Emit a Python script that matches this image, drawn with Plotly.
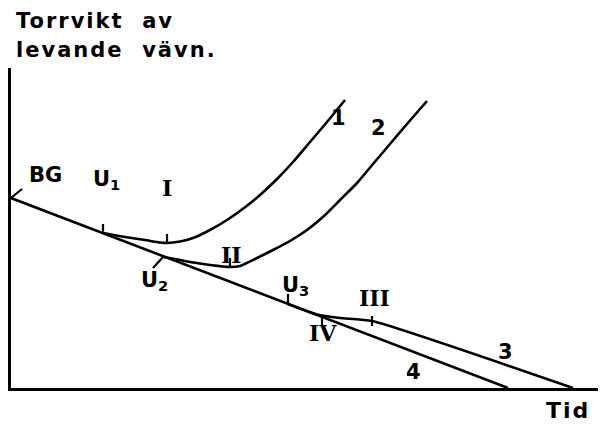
import plotly.graph_objects as go

# schematic: dry weight of living tissue over time
# main decline line BG -> 4
main_t = [0, 497]
main_w = [190, 0]

# curve 1 (starts at U1, minimum at I)
c1_t = [92, 114, 134, 149, 156, 169, 182, 199, 216, 233, 249, 266, 282, 299, 316, 334]
c1_w = [155, 151, 148, 145.5, 145, 146.5, 150, 158, 168, 180, 193, 209, 226, 246, 266, 288]

# curve 2 (starts at U2, minimum at II)
c2_t = [152, 164, 179, 199, 219, 229, 244, 262, 279, 296, 313, 329, 346, 362, 379, 396, 416]
c2_w = [131, 129, 126, 123, 121, 122, 129, 138, 147, 158, 172, 188, 205, 224, 244, 264, 287]

# curve 3 (starts at U3, bend at III)
c3_t = [277, 306, 329, 361, 562]
c3_w = [84, 73.5, 70, 67, 0]

# short marker strokes
marks = {
    'BG': ([0, 11], [190, 199]),
    'U1': ([92, 92], [155, 164]),
    'I': ([156, 156], [145, 154]),
    'U2': ([152, 142], [131, 120]),
    'II': ([219, 219], [121, 130]),
    'U3': ([277, 277], [84, 94]),
    'III': ([361, 361], [62, 72]),
    'IV': ([311, 311], [71, 62]),
}

# text labels: (text, t, w, font, size)
sans = 'DejaVu Sans'
serif = 'DejaVu Serif'
labels = [
    ('BG', 34, 213, sans, 21),
    ('U<sub>1</sub>', 95, 208, sans, 21),
    ('I', 156, 200, serif, 22),
    ('U<sub>2</sub>', 143, 107, sans, 21),
    ('II', 220, 133, serif, 22),
    ('U<sub>3</sub>', 284, 102, sans, 21),
    ('III', 363, 90, serif, 22),
    ('IV', 312, 55, serif, 22),
    ('1', 327, 270, sans, 21),
    ('2', 367, 260, sans, 21),
    ('3', 494, 36, sans, 21),
    ('4', 402, 16, sans, 21),
]


def spaced(s):
    return '<span style="letter-spacing:2px">' + s + '</span>'


line_style = dict(color='black', width=2.6)

fig = go.Figure()
for t, w in [(main_t, main_w), (c1_t, c1_w), (c2_t, c2_w), (c3_t, c3_w)]:
    fig.add_trace(go.Scatter(x=t, y=w, mode='lines', line=dict(line_style, shape='spline', smoothing=0.5),
                             hoverinfo='skip', cliponaxis=False))
for k, (t, w) in marks.items():
    fig.add_trace(go.Scatter(x=t, y=w, mode='lines', line=dict(color='black', width=2.2),
                             hoverinfo='skip', cliponaxis=False))

for txt, t, w, fam, sz in labels:
    fig.add_annotation(x=t, y=w, text=txt, showarrow=False,
                       font=dict(family=fam, size=sz, color='black', weight='bold'))

# axis titles (paper coords, plot box is 589 x 320 px)
title_font = dict(family=sans, size=21, color='black', weight='bold')
fig.add_annotation(xref='paper', yref='paper', x=3 / 589, y=367 / 320, text=spaced('Torrvikt  av'),
                   xanchor='left', yanchor='middle', showarrow=False, font=title_font)
fig.add_annotation(xref='paper', yref='paper', x=3 / 589, y=338 / 320, text=spaced('levande  vävn.'),
                   xanchor='left', yanchor='middle', showarrow=False, font=title_font)
fig.add_annotation(xref='paper', yref='paper', x=557 / 589, y=-22 / 320, text=spaced('Tid'),
                   xanchor='center', yanchor='middle', showarrow=False, font=dict(title_font, size=22))

# page body adds an 8px offset, margins compensate for it
fig.update_layout(
    width=606, height=427,
    margin=dict(l=3, r=14, t=60, b=47),
    paper_bgcolor='white', plot_bgcolor='white',
    showlegend=False,
    xaxis=dict(range=[0, 589], showline=True, linecolor='black', linewidth=3,
               showgrid=False, zeroline=False, showticklabels=False, ticks=''),
    yaxis=dict(range=[0, 320], showline=True, linecolor='black', linewidth=3,
               showgrid=False, zeroline=False, showticklabels=False, ticks=''),
)

fig.write_html('out.html', config={'displayModeBar': False})
